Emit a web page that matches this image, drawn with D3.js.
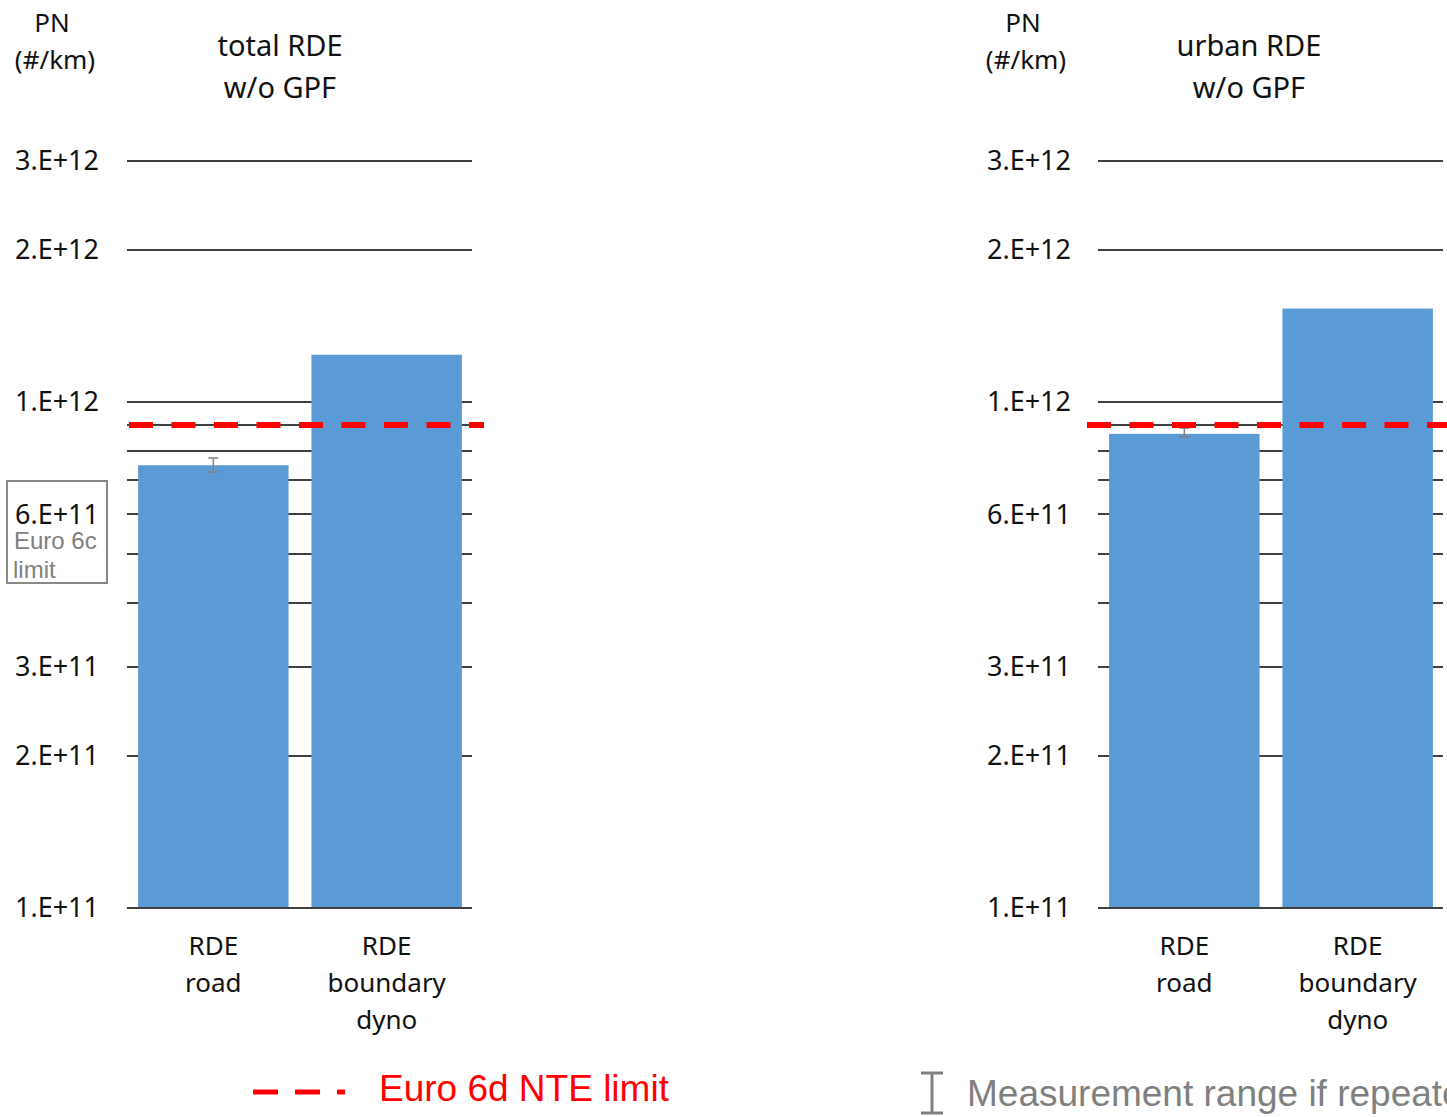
<!DOCTYPE html>
<html>
<head>
<meta charset="utf-8">
<script src="https://cdn.jsdelivr.net/npm/d3@7"></script>
<style>
  body { margin: 0; background: #fff; }
  text { font-family: "Noto Sans", sans-serif; }
</style>
</head>
<body>
<div id="chart"></div>
<script>
// data
var categories = [["RDE", "road"], ["RDE", "boundary", "dyno"]];
var panelTitles = [["total RDE", "w/o GPF"], ["urban RDE", "w/o GPF"]];
var totalValues = [7.5e11, 1.24e12];
var urbanValues = [8.65e11, 1.53e12];
var totalRange = [[7.27e11, 7.75e11], null];
var urbanRange = [[8.53e11, 8.88e11], null];
var tickValues = [1e11, 2e11, 3e11, 6e11, 1e12, 2e12, 3e12];
var gridValues = [1e11, 2e11, 3e11, 4e11, 5e11, 6e11, 7e11, 8e11, 9e11, 1e12, 2e12, 3e12];
var nteLimit = 9e11;
var yLabel = ["PN", "(#/km)"];
var legendNte = "Euro 6d NTE limit";
var legendRange = "Measurement range if repeated";
var euro6cText = ["Euro 6c", "limit"];

var W = 1447, H = 1117;
var barColor = "#5b9bd5";

var svg = d3.select("#chart").append("svg")
  .attr("width", W)
  .attr("height", H);

// y scale shared by both panels (log)
var y = d3.scaleLog()
  .domain([1e11, 3e12])
  .range([908, 908 - 506 * Math.log10(30)]);

var fmt = function(d) {
  var e = Math.floor(Math.log10(d) + 1e-9);
  return Math.round(d / Math.pow(10, e)) + ".E+" + e;
};

function drawPanel(opt) {
  var g = svg.append("g");
  var x = d3.scaleBand()
    .domain(categories.map(function(c, i) { return i; }))
    .range([opt.x0, opt.x0 + 346])
    .paddingInner(0.132)
    .paddingOuter(0.064);

  // gridlines
  g.selectAll(".grid")
    .data(gridValues)
    .enter().append("line")
      .attr("x1", opt.x0)
      .attr("x2", opt.x0 + 345)
      .attr("y1", function(d) { return Math.round(y(d)); })
      .attr("y2", function(d) { return Math.round(y(d)); })
      .attr("stroke", "#404040")
      .attr("stroke-width", 2);

  // tick labels
  g.selectAll(".tick")
    .data(tickValues)
    .enter().append("text")
      .attr("x", opt.tickX)
      .attr("y", function(d) { return y(d); })
      .attr("dy", "0.35em")
      .attr("text-anchor", "end")
      .style("font-size", "27px")
      .style("fill", "#111")
      .text(fmt);

  // bars
  g.selectAll(".bar")
    .data(opt.values)
    .enter().append("rect")
      .attr("x", function(d, i) { return x(i); })
      .attr("y", function(d) { return y(d); })
      .attr("width", x.bandwidth())
      .attr("height", function(d) { return y(1e11) - y(d); })
      .attr("fill", barColor);

  // baseline over the bars
  g.append("line")
    .attr("x1", opt.x0).attr("x2", opt.x0 + 345)
    .attr("y1", Math.round(y(1e11))).attr("y2", Math.round(y(1e11)))
    .attr("stroke", "#404040").attr("stroke-width", 2);

  // error bars
  opt.ranges.forEach(function(r, i) {
    if (!r) return;
    var cx = x(i) + x.bandwidth() / 2;
    var eb = g.append("g").attr("stroke", "#808080").attr("stroke-width", 1.5);
    eb.append("line").attr("x1", cx).attr("x2", cx).attr("y1", y(r[0])).attr("y2", y(r[1]));
    eb.append("line").attr("x1", cx - 5).attr("x2", cx + 5).attr("y1", y(r[0])).attr("y2", y(r[0]));
    eb.append("line").attr("x1", cx - 5).attr("x2", cx + 5).attr("y1", y(r[1])).attr("y2", y(r[1]));
  });

  // NTE limit dashed line
  g.append("line")
    .attr("x1", opt.dashX[0]).attr("x2", opt.dashX[1])
    .attr("y1", Math.round(y(nteLimit))).attr("y2", Math.round(y(nteLimit)))
    .attr("stroke", "#ff0000")
    .attr("stroke-width", 6)
    .attr("stroke-dasharray", "24,18.5");

  // category labels
  categories.forEach(function(lines, i) {
    var t = g.append("text")
      .attr("text-anchor", "middle")
      .style("font-size", "26px")
      .style("fill", "#111");
    lines.forEach(function(l, j) {
      t.append("tspan")
        .attr("x", x(i) + x.bandwidth() / 2)
        .attr("y", 955 + j * 37)
        .text(l);
    });
  });

  // title
  var tt = g.append("text")
    .attr("text-anchor", "middle")
    .style("font-size", "29px")
    .style("fill", "#111");
  opt.title.forEach(function(l, j) {
    tt.append("tspan").attr("x", opt.titleX).attr("y", 56 + j * 42).text(l);
  });

  // y label
  var yl = g.append("text")
    .attr("text-anchor", "middle")
    .style("font-size", "26px")
    .style("fill", "#111");
  yl.append("tspan").attr("x", opt.labelX).attr("y", 32).text(yLabel[0]);
  yl.append("tspan").attr("x", opt.labelX + 3).attr("y", 69).text(yLabel[1]);
}

drawPanel({
  x0: 127, tickX: 99, values: totalValues, ranges: totalRange,
  dashX: [129, 484], title: panelTitles[0], titleX: 280, labelX: 52
});
drawPanel({
  x0: 1098, tickX: 1071, values: urbanValues, ranges: urbanRange,
  dashX: [1087, 1460], title: panelTitles[1], titleX: 1249, labelX: 1023
});

// Euro 6c limit box
svg.append("rect")
  .attr("x", 7).attr("y", 481).attr("width", 100).attr("height", 102)
  .attr("fill", "none").attr("stroke", "#888").attr("stroke-width", 2);
svg.append("text").attr("x", 14).attr("y", 549)
  .style("font-family", "'Liberation Sans', Arial, sans-serif")
  .style("font-size", "24px").style("fill", "#808080").text(euro6cText[0]);
svg.append("text").attr("x", 13).attr("y", 578)
  .style("font-family", "'Liberation Sans', Arial, sans-serif")
  .style("font-size", "24px").style("fill", "#808080").text(euro6cText[1]);

// legend: NTE limit
var lg = svg.append("g");
lg.append("line")
  .attr("x1", 253).attr("x2", 345).attr("y1", 1092).attr("y2", 1092)
  .attr("stroke", "#ff0000").attr("stroke-width", 5)
  .attr("stroke-dasharray", "25,17");
lg.append("text").attr("x", 379).attr("y", 1101)
  .style("font-family", "'Liberation Sans', Arial, sans-serif")
  .style("font-size", "37px").style("fill", "#ff0000").text(legendNte);

// legend: measurement range
var lr = svg.append("g").attr("stroke", "#808080").attr("stroke-width", 3);
lr.append("line").attr("x1", 932).attr("x2", 932).attr("y1", 1073).attr("y2", 1114);
lr.append("line").attr("x1", 921).attr("x2", 943).attr("y1", 1073).attr("y2", 1073);
lr.append("line").attr("x1", 921).attr("x2", 943).attr("y1", 1113).attr("y2", 1113);
svg.append("text").attr("x", 967).attr("y", 1106)
  .style("font-family", "'Liberation Sans', Arial, sans-serif")
  .style("font-size", "37px").style("fill", "#808080").text(legendRange);
</script>
</body>
</html>
